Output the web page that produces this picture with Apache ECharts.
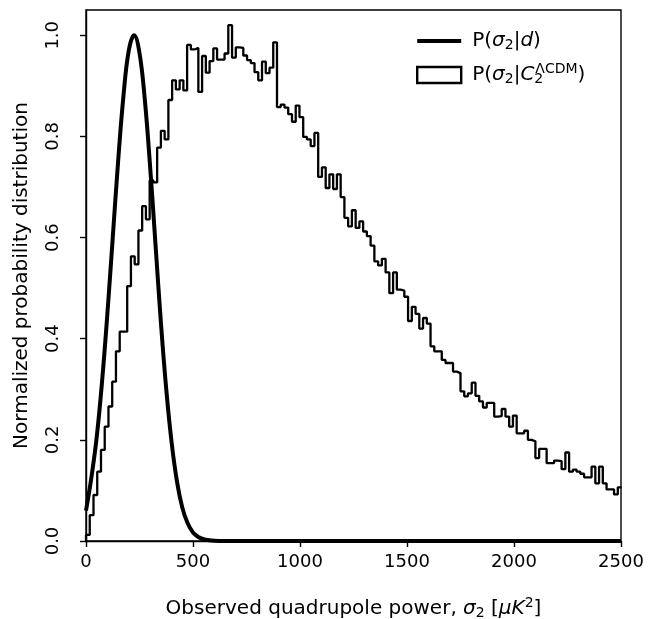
<!DOCTYPE html>
<html>
<head>
<meta charset="utf-8">
<script src="https://cdn.jsdelivr.net/npm/echarts@6/dist/echarts.min.js"></script>
<style>
  html, body { margin: 0; padding: 0; background: #fff; }
  #chart { width: 650px; height: 619px; }
</style>
</head>
<body>
<div id="chart"></div>
<script>
// histogram of sigma_2 under LCDM, bins of 17.5 uK^2 starting at 0
const binWidth = 17.5;
const histValues = [
    0.012, 0.051, 0.091, 0.137, 0.180, 0.226, 0.266, 0.315, 0.375, 0.414,
    0.414, 0.504, 0.563, 0.547, 0.614, 0.662, 0.636, 0.713, 0.709, 0.778,
    0.811, 0.794, 0.872, 0.911, 0.893, 0.911, 0.891, 0.981, 0.972, 0.975,
    0.888, 0.959, 0.926, 0.949, 0.974, 0.952, 0.952, 0.964, 1.020, 0.956,
    0.976, 0.975, 0.960, 0.951, 0.945, 0.927, 0.911, 0.948, 0.925, 0.936,
    0.986, 0.858, 0.863, 0.857, 0.844, 0.829, 0.861, 0.838, 0.799, 0.794,
    0.781, 0.807, 0.720, 0.739, 0.698, 0.725, 0.696, 0.725, 0.680, 0.639,
    0.622, 0.654, 0.619, 0.632, 0.612, 0.603, 0.584, 0.553, 0.545, 0.558,
    0.531, 0.490, 0.531, 0.497, 0.495, 0.483, 0.435, 0.463, 0.449, 0.420,
    0.441, 0.430, 0.385, 0.375, 0.375, 0.358, 0.352, 0.352, 0.335, 0.332,
    0.296, 0.286, 0.292, 0.313, 0.287, 0.276, 0.264, 0.273, 0.273, 0.246,
    0.247, 0.261, 0.246, 0.226, 0.248, 0.213, 0.213, 0.218, 0.200, 0.197,
    0.164, 0.182, 0.182, 0.154, 0.154, 0.159, 0.158, 0.142, 0.175, 0.137,
    0.141, 0.137, 0.133, 0.126, 0.126, 0.147, 0.114, 0.147, 0.114, 0.102,
    0.102, 0.092, 0.106
];

// P(sigma_2 | d)
const curveX = [0, 25, 50, 75, 100, 125, 150, 175, 200, 225, 250, 275, 300, 325,
    350, 375, 400, 425, 450, 475, 500, 525, 550, 575, 600, 650, 700, 2500];
const curveY = [0.06, 0.125, 0.205, 0.315, 0.45, 0.60, 0.75, 0.88, 0.97, 1.0, 0.965,
    0.872, 0.738, 0.585, 0.432, 0.30, 0.195, 0.118, 0.066, 0.035, 0.017, 0.008,
    0.0035, 0.0015, 0.0005, 0, 0, 0];

const xTicks = [0, 500, 1000, 1500, 2000, 2500];
const yTicks = [0, 0.2, 0.4, 0.6, 0.8, 1.0];

const curveName = 'P(σ2|d)';
const histName = 'P(σ2|C2ΛCDM)';

let histData = [[0, 0]];
for (let i = 0; i < histValues.length; i++) {
    histData.push([i * binWidth, histValues[i]]);
}
histData.push([histValues.length * binWidth, histValues[histValues.length - 1]]);

let curveData = curveX.map(function (x, i) { return [x, curveY[i]]; });

const font = 'DejaVu Sans';
const richText = function (size) {
    return {
        n: { fontFamily: font, fontSize: size, color: '#000' },
        i: { fontFamily: font, fontSize: size, fontStyle: 'italic', color: '#000' },
        s: { fontFamily: font, fontSize: size * 0.7, color: '#000', padding: [size * 0.45, 0, 0, 0] },
        s0: { fontFamily: font, fontSize: size * 0.7, color: '#000', width: 1, padding: [size * 0.45, 0, 0, 0] },
        sup: { fontFamily: font, fontSize: size * 0.7, color: '#000', padding: [0, 0, size * 0.55, 0] }
    };
};

let chart = echarts.init(document.getElementById('chart'), null, { renderer: 'canvas' });

let option = {
    animation: false,
    backgroundColor: '#fff',
    grid: {
        left: 86, right: 29, top: 10, bottom: 78,
        outerBoundsMode: 'none',
        show: true,
        borderColor: '#000',
        borderWidth: 1.4,
        backgroundColor: 'transparent'
    },
    legend: {
        orient: 'vertical',
        left: 416,
        top: 31,
        padding: 0,
        itemWidth: 44,
        itemHeight: 16,
        itemGap: 10,
        selectedMode: false,
        textStyle: { fontFamily: font, fontSize: 20, color: '#000', padding: [0, 0, 0, 6], rich: richText(20) },
        formatter: function (name) {
            if (name === curveName) {
                return '{n|P(}{i|σ}{s|2}{n||}{i|d}{n|)}';
            }
            return '{n|P(}{i|σ}{s|2}{n||}{i|C}{s0|2}{sup|ΛCDM}{n|)}';
        },
        data: [
            { name: curveName, icon: 'path://M0,0L44,0L44,4L0,4Z', itemStyle: { color: '#000', borderWidth: 0 } },
            { name: histName, icon: 'rect', itemStyle: { color: '#fff', borderColor: '#000', borderWidth: 2.4 } }
        ]
    },
    xAxis: {
        type: 'value',
        min: 0,
        max: 2500,
        interval: 500,
        name: '{n|Observed quadrupole power, }{i|σ}{s|2}{n| [}{i|μK}{sup|2}{n|]}',
        nameLocation: 'middle',
        nameGap: 55,
        nameTextStyle: { fontFamily: font, fontSize: 20, color: '#000', rich: richText(20) },
        axisLine: { show: true, lineStyle: { color: '#000', width: 1.4 } },
        axisTick: { show: true, length: 6, lineStyle: { color: '#000', width: 1.4 }, customValues: xTicks },
        axisLabel: {
            fontFamily: font, fontSize: 18, color: '#000', margin: 12, customValues: xTicks,
            formatter: function (v) { return String(v); }
        },
        splitLine: { show: false }
    },
    yAxis: {
        type: 'value',
        min: 0,
        max: 1.05,
        interval: 0.2,
        name: 'Normalized probability distribution',
        nameLocation: 'middle',
        nameGap: 54,
        nameTextStyle: { fontFamily: font, fontSize: 20, color: '#000' },
        axisLine: { show: true, lineStyle: { color: '#000', width: 1.4 } },
        axisTick: { show: true, length: 6, lineStyle: { color: '#000', width: 1.4 }, customValues: yTicks },
        axisLabel: {
            fontFamily: font, fontSize: 18, color: '#000', margin: 24, rotate: 90,
            customValues: yTicks,
            formatter: function (v) { return v.toFixed(1); }
        },
        splitLine: { show: false }
    },
    series: [
        {
            name: curveName,
            type: 'line',
            data: curveData,
            smooth: 0.4,
            symbol: 'none',
            lineStyle: { color: '#000', width: 4 },
            itemStyle: { color: '#000' },
            z: 3
        },
        {
            name: histName,
            type: 'line',
            step: 'end',
            data: histData,
            symbol: 'none',
            lineStyle: { color: '#000', width: 2.3 },
            itemStyle: { color: '#000' },
            z: 2
        }
    ]
};

chart.setOption(option);
</script>
</body>
</html>
